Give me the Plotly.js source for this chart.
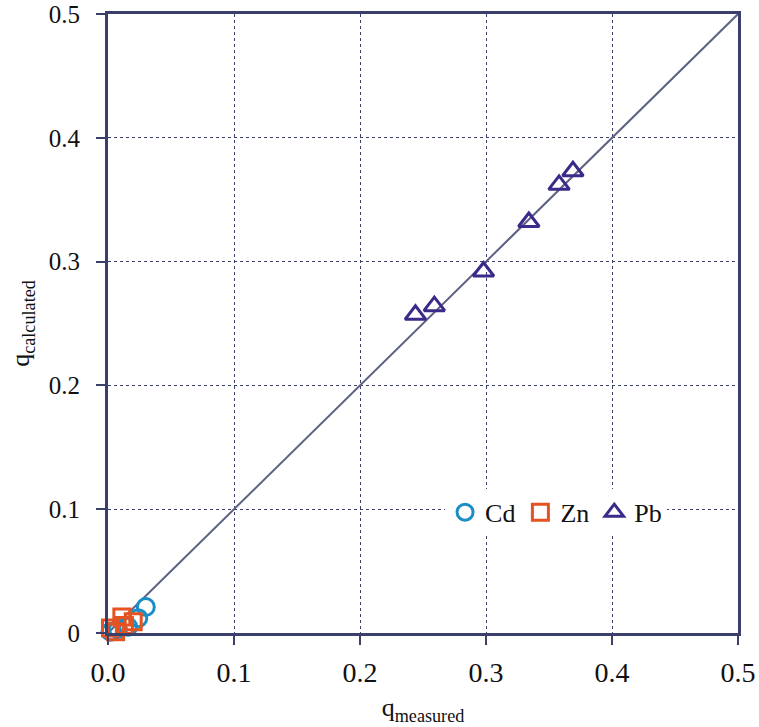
<!DOCTYPE html>
<html>
<head>
<meta charset="utf-8">
<script src="https://cdn.plot.ly/plotly-3.0.1.min.js"></script>
<style>html,body{margin:0;padding:0;background:#fff;}#chart{width:759px;height:727px;}</style>
</head>
<body>
<div id="chart"></div>
<script>
// Data
const cdMeasured = [0.002, 0.008, 0.016, 0.024, 0.030];
const cdCalculated = [0.001, 0.003, 0.005, 0.012, 0.021];
const znMeasured = [-0.001, 0.002, 0.006, 0.011, 0.013, 0.020];
const znCalculated = [-0.004, 0.004, 0.001, 0.013, 0.006, 0.009];
const pbMeasured = [0.244, 0.259, 0.298, 0.334, 0.358, 0.369];
const pbCalculated = [0.257, 0.264, 0.292, 0.332, 0.362, 0.373];
const lineX = [0, 0.5];
const lineY = [0, 0.5];
const xTickVals = [0, 0.1, 0.2, 0.3, 0.4, 0.5];
const xTickText = ["0.0", "0.1", "0.2", "0.3", "0.4", "0.5"];
const yTickVals = [0, 0.1, 0.2, 0.3, 0.4, 0.5];
const yTickText = ["0", "0.1", "0.2", "0.3", "0.4", "0.5"];

const serif = "Liberation Serif";
const axisColor = "#3b3f6b";

const traces = [
  {x: lineX, y: lineY, mode: "lines", line: {color: "#5c6282", width: 2}, showlegend: false, hoverinfo: "skip"},
  {x: cdMeasured, y: cdCalculated, mode: "markers", name: "Cd", cliponaxis: false,
   marker: {symbol: "circle-open", size: 17, color: "#1b8ec6", line: {width: 3, color: "#1b8ec6"}}},
  {x: znMeasured, y: znCalculated, mode: "markers", name: "Zn", cliponaxis: false,
   marker: {symbol: "square-open", size: 16, color: "#e65322", line: {width: 3, color: "#e65322"}}},
  {x: pbMeasured, y: pbCalculated, mode: "markers", name: "Pb", cliponaxis: false,
   marker: {symbol: "triangle-up-open", size: 18, color: "#3c2a8a", line: {width: 3, color: "#3c2a8a"}}}
];

const layout = {
  width: 759, height: 727,
  margin: {l: 108, r: 21, t: 14, b: 94},
  paper_bgcolor: "#fff", plot_bgcolor: "#fff",
  font: {family: serif, color: "#111"},
  showlegend: true,
  legend: {orientation: "h", x: 0.535, y: 0.195, xanchor: "left", yanchor: "middle",
           bgcolor: "#fff", font: {family: serif, size: 26, color: "#111"}, itemwidth: 30},
  xaxis: {
    range: [0, 0.5], tickvals: xTickVals, ticktext: xTickText,
    showgrid: true, gridcolor: axisColor, griddash: "dot", gridwidth: 1,
    showline: true, linecolor: axisColor, linewidth: 3, mirror: true,
    ticks: "outside", ticklen: 9, tickwidth: 2, tickcolor: axisColor,
    ticklabelstandoff: 3, ticklabeloverflow: "allow",
    tickfont: {family: serif, size: 28, color: "#111"},
    zeroline: false,
    title: {text: "q<sub>measured</sub>", font: {family: serif, size: 26, color: "#111"}, standoff: 12}
  },
  yaxis: {
    range: [0, 0.5], tickvals: yTickVals, ticktext: yTickText,
    showgrid: true, gridcolor: axisColor, griddash: "dot", gridwidth: 1,
    showline: true, linecolor: axisColor, linewidth: 3, mirror: true,
    ticks: "outside", ticklen: 9, tickwidth: 2, tickcolor: axisColor,
    ticklabelstandoff: 11, ticklabeloverflow: "allow",
    tickfont: {family: serif, size: 25, color: "#111"},
    zeroline: false,
    title: {text: "q<sub>calculated</sub>", font: {family: serif, size: 26, color: "#111"}, standoff: 12}
  }
};

Plotly.newPlot("chart", traces, layout, {displayModeBar: false, staticPlot: true});
</script>
</body>
</html>
